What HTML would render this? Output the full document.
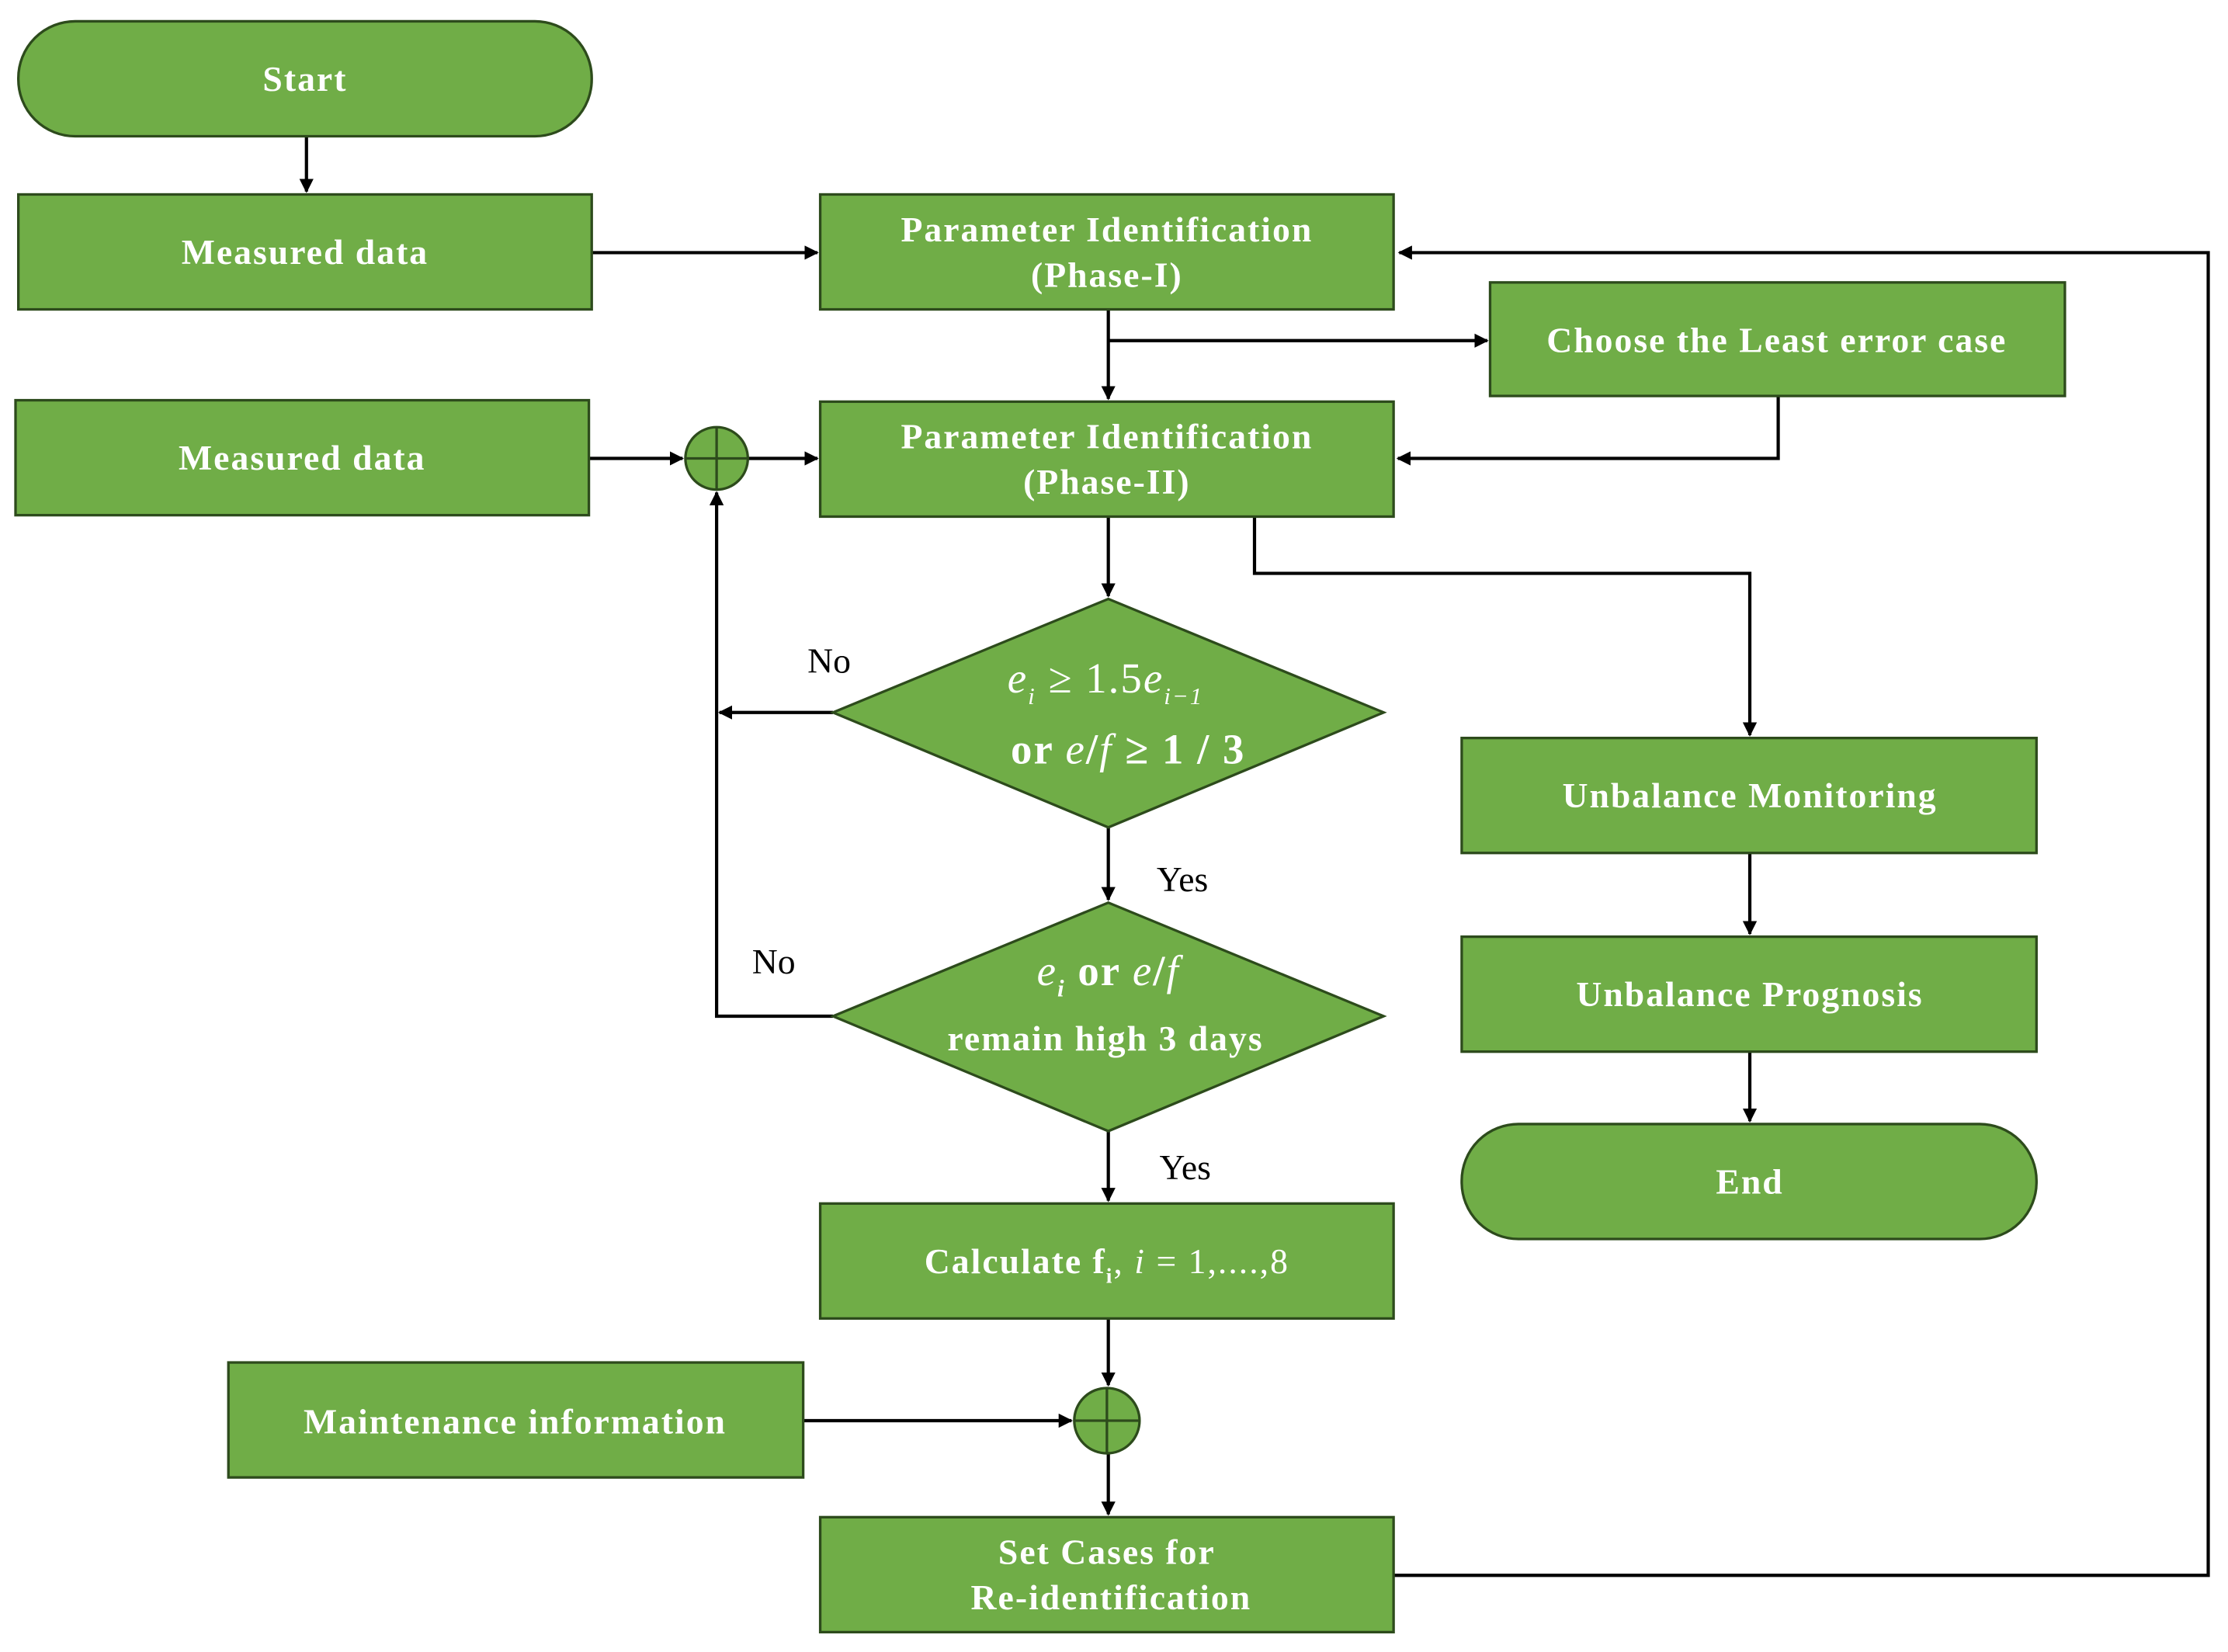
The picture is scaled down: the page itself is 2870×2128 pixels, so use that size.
<!DOCTYPE html>
<html><head><meta charset="utf-8"><style>
html,body{margin:0;padding:0;background:#fff;}
svg{display:block;}
.b{fill:#70AD47;stroke:#2D4B1C;stroke-width:1.8;}
.t{fill:#fff;font-family:"Liberation Serif",serif;font-weight:bold;font-size:25px;letter-spacing:1.1px;text-anchor:middle;}
.l{fill:none;stroke:#000;stroke-width:2.3;}
.lb{fill:#000;font-family:"Liberation Serif",serif;font-size:25px;}
.cx{stroke:#2D4B1C;stroke-width:1.8;}
</style></head><body>
<svg width="2870" height="2128" viewBox="0 0 1568 1164" xmlns="http://www.w3.org/2000/svg">
<defs><marker id="a" markerWidth="10" markerHeight="10" refX="9" refY="5" orient="auto" markerUnits="userSpaceOnUse"><path d="M0,0 L10,5 L0,10 z" fill="#000"/></marker></defs>
<path class="l" d="M215,96 V135" marker-end="url(#a)"/>
<path class="l" d="M416,178 H575" marker-end="url(#a)"/>
<path class="l" d="M780,218 V281" marker-end="url(#a)"/>
<path class="l" d="M780,240 H1047" marker-end="url(#a)"/>
<path class="l" d="M1252,279 V323 H984" marker-end="url(#a)"/>
<path class="l" d="M414,323 H480" marker-end="url(#a)"/>
<path class="l" d="M526,323 H575" marker-end="url(#a)"/>
<path class="l" d="M780,364 V420" marker-end="url(#a)"/>
<path class="l" d="M883,364 V404 H1232 V518" marker-end="url(#a)"/>
<path class="l" d="M586,502 H506" marker-end="url(#a)"/>
<path class="l" d="M780,583 V634" marker-end="url(#a)"/>
<path class="l" d="M586,716 H504 V347" marker-end="url(#a)"/>
<path class="l" d="M780,797 V846" marker-end="url(#a)"/>
<path class="l" d="M780,929 V976" marker-end="url(#a)"/>
<path class="l" d="M565,1001 H754" marker-end="url(#a)"/>
<path class="l" d="M780,1024 V1067" marker-end="url(#a)"/>
<path class="l" d="M1232,601 V658" marker-end="url(#a)"/>
<path class="l" d="M1232,741 V790" marker-end="url(#a)"/>
<path class="l" d="M981,1110 H1555 V178 H985" marker-end="url(#a)"/>
<rect class="b" x="12" y="15" width="404" height="81" rx="40"/>
<text class="t" x="214" y="64">Start</text>
<rect class="b" x="12" y="137" width="404" height="81"/>
<text class="t" x="214" y="186">Measured data</text>
<rect class="b" x="577" y="137" width="404" height="81"/>
<text class="t" x="779" y="170">Parameter Identification</text>
<text class="t" x="779" y="202">(Phase-I)</text>
<rect class="b" x="1049" y="199" width="405" height="80"/>
<text class="t" x="1251" y="248">Choose the Least error case</text>
<rect class="b" x="10" y="282" width="404" height="81"/>
<text class="t" x="212" y="331">Measured data</text>
<circle class="b" cx="504" cy="323" r="22"/>
<path class="cx" d="M482,323 H526 M504,301 V345"/>
<rect class="b" x="577" y="283" width="404" height="81"/>
<text class="t" x="779" y="316">Parameter Identification</text>
<text class="t" x="779" y="348">(Phase-II)</text>
<polygon class="b" points="780,422 974,502 780,583 586,502"/>
<text class="t" x="778" y="488" style="font-weight:normal;font-size:30px"><tspan font-style="italic">e</tspan><tspan font-style="italic" font-size="17" dy="8">i</tspan><tspan dy="-8"> ≥ 1.5</tspan><tspan font-style="italic">e</tspan><tspan font-style="italic" font-size="17" dy="8">i−1</tspan></text>
<text class="t" x="794" y="538" style="font-size:30px">or <tspan font-style="italic" font-weight="normal">e</tspan>/<tspan font-style="italic" font-weight="normal">f</tspan> ≥ 1 / 3</text>
<polygon class="b" points="780,636 974,716 780,797 586,716"/>
<text class="t" x="780" y="694" style="font-size:30px"><tspan font-style="italic" font-weight="normal">e</tspan><tspan font-style="italic" font-size="17" dy="8">i</tspan><tspan dy="-8"> or </tspan><tspan font-style="italic" font-weight="normal">e</tspan>/<tspan font-style="italic" font-weight="normal">f</tspan></text>
<text class="t" x="778" y="740">remain high 3 days</text>
<rect class="b" x="1029" y="520" width="405" height="81"/>
<text class="t" x="1232" y="569">Unbalance Monitoring</text>
<rect class="b" x="1029" y="660" width="405" height="81"/>
<text class="t" x="1232" y="709">Unbalance Prognosis</text>
<rect class="b" x="1029" y="792" width="405" height="81" rx="40"/>
<text class="t" x="1232" y="841">End</text>
<rect class="b" x="577" y="848" width="404" height="81"/>
<text class="t" x="779" y="897">Calculate f<tspan font-size="15" dy="7">i</tspan><tspan dy="-7" font-weight="normal">, </tspan><tspan font-style="italic" font-weight="normal">i</tspan><tspan font-weight="normal"> = 1,....,8</tspan></text>
<rect class="b" x="160" y="960" width="405" height="81"/>
<text class="t" x="362" y="1010">Maintenance information</text>
<circle class="b" cx="779" cy="1001" r="23"/>
<path class="cx" d="M756,1001 H802 M779,978 V1024"/>
<rect class="b" x="577" y="1069" width="404" height="81"/>
<text class="t" x="779" y="1102">Set Cases for</text>
<text class="t" x="782" y="1134">Re-identification</text>
<text class="lb" x="568" y="474">No</text>
<text class="lb" x="814" y="628">Yes</text>
<text class="lb" x="529" y="686">No</text>
<text class="lb" x="816" y="831">Yes</text>
</svg>
</body></html>
